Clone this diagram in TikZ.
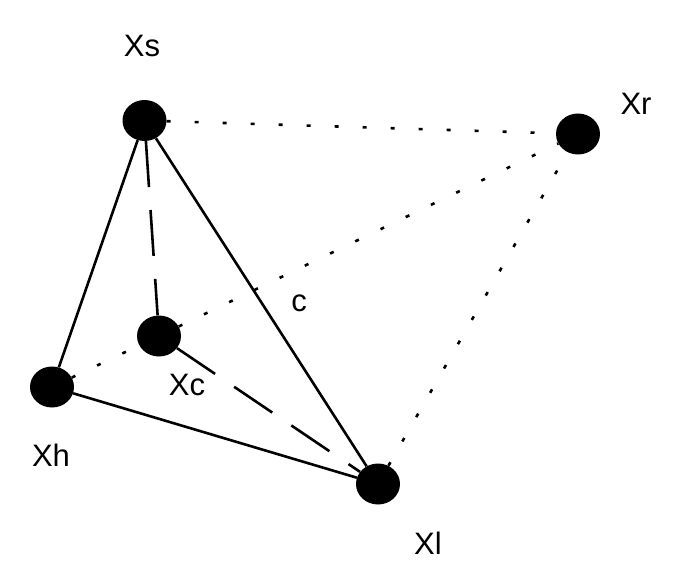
\documentclass[tikz,border=0pt]{standalone}
\usepackage{fontspec}
\setmainfont{Liberation Sans}
\usetikzlibrary{shapes.geometric}
\begin{document}
\begin{tikzpicture}[x=1pt,y=-1pt,
  vertex/.style={ellipse,fill=black,draw=none,minimum width=44pt,minimum height=41pt,inner sep=0pt},
  lbl/.style={font=\fontsize{31}{36}\selectfont,inner sep=0pt},
  solidline/.style={line width=2.6pt},
  dashline/.style={line width=2.6pt,dash pattern=on 46pt off 23pt},
  dotline/.style={line width=2.6pt,dash pattern=on 4pt off 24pt}]
\useasboundingbox (0,0) rectangle (677,583);
\node[vertex] (xs) at (144.5,120.5) {};
\node[vertex] (xr) at (578,134) {};
\node[vertex] (xc) at (159,336) {};
\node[vertex] (xh) at (52,387) {};
\node[vertex] (xl) at (378,484) {};
\node[lbl] (lxs) at (142,46) {Xs};
\node[lbl] (lxr) at (636,104) {Xr};
\node[lbl] (lxc) at (187,385) {Xc};
\node[lbl] (lxh) at (51,455) {Xh};
\node[lbl] (lxl) at (428,543) {Xl};
\node[lbl] (lc) at (299,303) {c};
\draw[solidline] (xs) -- (xh);
\draw[solidline] (xs) -- (xl);
\draw[solidline] (xh) -- (xl);
\draw[dashline] (xs) -- (xc);
\draw[dashline] (xc) -- (xl);
\draw[dotline] (xs) -- (xr);
\draw[dotline] (xh) -- (xc);
\draw[dotline] (xc) -- (xr);
\draw[dotline] (xl) -- (xr);
\end{tikzpicture}
\end{document}
